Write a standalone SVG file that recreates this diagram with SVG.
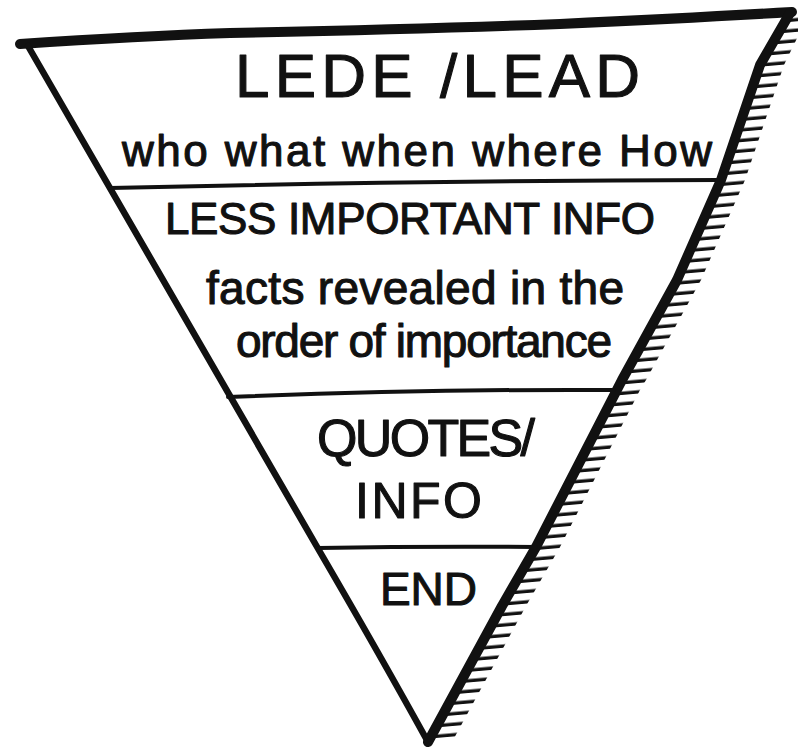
<svg xmlns="http://www.w3.org/2000/svg" width="798" height="753" viewBox="0 0 798 753">
  <style>
    .ink { fill: none; stroke: #111; stroke-linecap: round; stroke-linejoin: round; }
    .label { font-family: "Liberation Sans", "DejaVu Sans", sans-serif; fill: #111; stroke: #111; stroke-width: 1.1; stroke-linejoin: round; }
  </style>
  <defs>
    <!-- short horizontal ticks shading the right-hand side of the funnel -->
    <pattern id="hatch" patternUnits="userSpaceOnUse" width="40" height="10.5" patternTransform="rotate(-5)">
      <path d="M0,5 H40" stroke="#111" stroke-width="3.4"/>
    </pattern>
  </defs>

  <rect width="798" height="753" fill="#fff"/>

  <!-- shading strip along the right edge -->
  <g id="hatching">
    <polygon fill="url(#hatch)" points="790,13 760,65 721,180 677,280 622,380 616,390 536,547 502,606 428,742 452,742 526,606 560,547 640,390 646,380 701,280 745,180 784,65 800,32 800,13"/>
  </g>

  <!-- outline of the inverted pyramid -->
  <g id="frame">
    <path class="ink" stroke-width="10" d="M20,44 Q 140,36 230,33 Q 420,29 560,24 Q 690,18 792,12"/>
    <path class="ink" stroke-width="6.5" d="M28,46 Q 200,345 320,552 Q 380,655 428,742"/>
    <path class="ink" stroke-width="10" d="M790,13 L760,65 L721,180 L677,280 L622,380 L536,547 L502,606 L428,742"/>
  </g>

  <!-- tier separators -->
  <g id="dividers">
    <path class="ink" stroke-width="4" d="M110,188 Q 400,181 718,180"/>
    <path class="ink" stroke-width="4" d="M228,397 Q 420,389 614,390"/>
    <path class="ink" stroke-width="4" d="M318,548 Q 430,546 536,547"/>
  </g>

  <g id="tier-lede">
    <text class="label" x="235" y="97" font-size="62" textLength="405" lengthAdjust="spacing">LEDE /LEAD</text>
    <text class="label" x="122" y="166" font-size="44" textLength="590" lengthAdjust="spacing">who what when where How</text>
  </g>

  <g id="tier-less-important">
    <text class="label" x="165" y="234" font-size="44" textLength="490" lengthAdjust="spacing">LESS IMPORTANT INFO</text>
    <text class="label" x="206" y="304" font-size="46" textLength="418" lengthAdjust="spacing">facts revealed in the</text>
    <text class="label" x="236" y="357" font-size="46" textLength="376" lengthAdjust="spacing">order of importance</text>
  </g>

  <g id="tier-quotes">
    <text class="label" x="317" y="456" font-size="52" textLength="218" lengthAdjust="spacing">QUOTES/</text>
    <text class="label" x="355" y="518" font-size="50" textLength="127" lengthAdjust="spacing">INFO</text>
  </g>

  <g id="tier-end">
    <text class="label" x="380" y="605" font-size="46" textLength="97" lengthAdjust="spacing">END</text>
  </g>
</svg>
